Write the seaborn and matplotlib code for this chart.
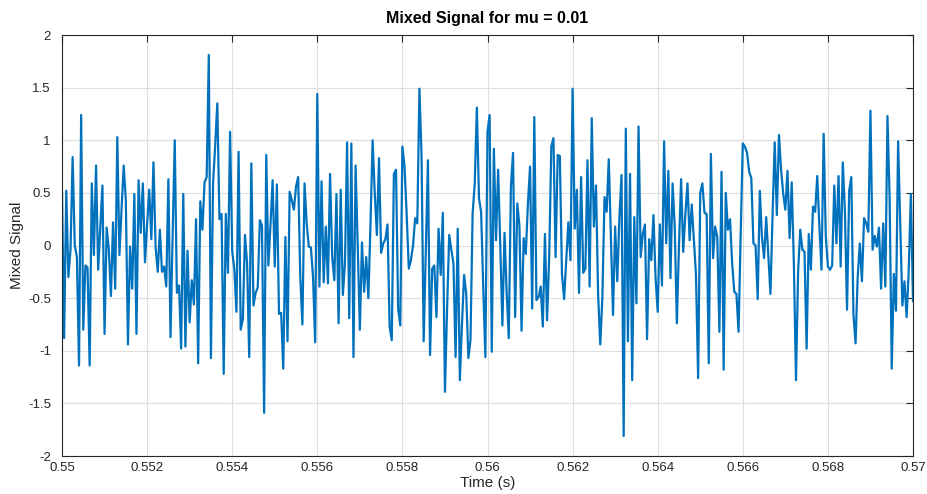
import numpy as np
import pandas as pd
import matplotlib
matplotlib.use("Agg")
import matplotlib.pyplot as plt
import seaborn as sns

# ---- data ----
fs = 20000          # samples per second
t_start = 0.55      # seconds

seg_a = [0.50, -0.88, 0.52, -0.30, -0.04, 0.84, 0.00, -0.11, -1.14, 1.24,
         -0.80, -0.19, -0.21, -1.14, 0.59, -0.09, 0.76, -0.23, 0.17, 0.57,
         -0.84, 0.17, -0.04, -0.48, 0.22, -0.41, 1.03, -0.09, 0.35, 0.76,
         0.43, -0.94, -0.01, -0.41, 0.49, -0.84, 0.62, 0.12, 0.59, -0.16,
         0.20, 0.53, 0.06, 0.79, -0.02, -0.25, 0.15, -0.25, -0.20, -0.39,
         0.63, -0.87, 0.10, 1.00, -0.45, -0.38, -0.98, 0.49, -0.96, -0.05,
         -0.73, -0.33, -0.56, 0.25, -1.12, 0.42, 0.15, 0.60, 0.65, 1.81,
         -1.07, 0.59, 0.95, 1.35, 0.25, 0.30, -1.22, 0.30, -0.26, 1.08,
         -0.05, -0.23, -0.63, 0.89, -0.80, -0.70, 0.10, -0.17, -1.06, 0.78,
         -0.57, -0.45, -0.40, 0.24, 0.19, -1.59, 0.86, -0.19, 0.20, 0.62]

seg_b = [-0.20, 0.58, -0.65, -0.64, -1.17, 0.08, -0.91, 0.51, 0.43, 0.34,
         0.56, 0.65, -0.30, -0.75, 0.59, 0.21, -0.01, -0.02, -0.30, -0.92,
         1.44, -0.39, 0.61, -0.35, 0.18, -0.36, 0.68, -0.11, -0.33, 0.49,
         -0.74, 0.53, -0.47, -0.17, 0.98, -0.69, 0.97, -1.06, 0.76, 0.00,
         -0.80, 0.03, -0.44, -0.11, -0.50, 0.20, 1.00, 0.50, 0.10, 0.83,
         -0.07, 0.02, 0.06, 0.20, -0.77, -0.90, 0.68, 0.72, -0.60, -0.76,
         0.94, 0.75, 0.30, -0.22, -0.14, 0.00, 0.26, 0.21, 1.49, 0.85,
         -0.91, -0.05, 0.81, -1.04, -0.22, -0.19, -0.68, 0.16, -0.28, 0.31,
         -1.39, -0.60, 0.10, -0.04, -0.17, -1.06, 0.16, -1.28, -0.75, -0.28,
         -0.46, -1.07, -0.90, 0.30, 0.59, 1.31, 0.45, 0.32, -0.40, -1.06]

seg_c = [1.08, 1.24, -1.01, 0.92, 0.05, 0.72, 0.00, -0.76, 0.12, -0.44,
         -0.88, 0.56, 0.88, -0.68, 0.40, 0.19, -0.81, 0.07, -0.08, 0.40,
         0.75, -0.60, 1.22, -0.52, -0.49, -0.39, -0.77, 0.11, -0.71, -0.11,
         0.94, 1.02, -0.11, 0.86, 0.85, -0.27, -0.51, -0.15, 0.22, -0.14,
         1.49, 0.16, 0.53, -0.45, 0.65, -0.26, -0.22, 0.81, -0.39, 1.21,
         0.18, 0.57, -0.47, -0.94, -0.49, 0.46, 0.32, 0.82, 0.08, -0.66,
         0.18, -0.34, 0.27, 0.67, -1.81, 1.11, -0.91, 0.68, -1.28, 0.27,
         -0.55, 1.13, -0.11, 0.11, 0.20, -0.89, 0.06, -0.14, 0.29, -0.31,
         -0.63, 0.20, -0.38, 0.99, 0.02, 0.71, -0.31, 0.59, 0.18, -0.74,
         0.00, 0.63, -0.06, 0.30, 0.59, 0.05, 0.39, 0.05, -0.28, -1.26]

seg_d = [0.50, 0.59, 0.31, 0.30, -1.12, 0.87, -0.12, 0.18, 0.08, -0.82,
         0.70, -1.18, 0.50, 0.15, 0.25, -0.17, -0.44, -0.46, -0.82, 0.10,
         0.97, 0.94, 0.88, 0.70, 0.64, 0.02, 0.00, -0.51, 0.52, 0.08,
         -0.12, 0.27, -0.10, -0.46, 0.30, 0.98, 0.29, 1.05, 0.72, 0.49,
         0.34, 0.71, 0.07, 0.60, -0.17, -1.28, -0.25, 0.15, -0.04, -0.06,
         -0.98, 0.11, -0.23, 0.37, 0.32, 0.66, 0.18, -0.23, 1.06, 0.09,
         -0.20, -0.23, -0.19, 0.57, 0.02, 0.66, -0.20, 0.79, 0.32, -0.61,
         0.52, 0.65, -0.65, -0.93, -0.30, 0.02, -0.34, 0.26, 0.21, 0.13,
         1.28, -0.04, 0.09, -0.01, 0.17, -0.41, 0.21, -0.39, 1.23, 0.46,
         -1.17, -0.27, -0.62, 0.99, 0.20, -0.57, -0.34, -0.68, -0.23, 0.49,
         -0.53]

x_ticks = [0.55, 0.552, 0.554, 0.556, 0.558, 0.56, 0.562, 0.564, 0.566, 0.568, 0.57]
x_tick_labels = ["0.55", "0.552", "0.554", "0.556", "0.558", "0.56",
                 "0.562", "0.564", "0.566", "0.568", "0.57"]
y_ticks = [-2, -1.5, -1, -0.5, 0, 0.5, 1, 1.5, 2]
y_tick_labels = ["-2", "-1.5", "-1", "-0.5", "0", "0.5", "1", "1.5", "2"]

signal = np.array(seg_a + seg_b + seg_c + seg_d)
time = t_start + np.arange(len(signal)) / fs
df = pd.DataFrame({"Time (s)": time, "Mixed Signal": signal})

# ---- plot ----
sns.set_style("white")
plt.rcParams["font.family"] = ["Liberation Sans", "DejaVu Sans"]

fig = plt.figure(figsize=(9.28, 4.94), dpi=100)
ax = fig.add_axes([62 / 928, 1 - 456 / 494, (913 - 62) / 928, (456 - 35) / 494])

sns.lineplot(data=df, x="Time (s)", y="Mixed Signal", ax=ax,
             color="#0072BD", linewidth=1.6, estimator=None, sort=False)

ax.set_xlim(0.55, 0.57)
ax.set_ylim(-2, 2)
ax.set_xticks(x_ticks)
ax.set_xticklabels(x_tick_labels)
ax.set_yticks(y_ticks)
ax.set_yticklabels(y_tick_labels)

ax.grid(True, color="#dedede", linewidth=0.8)
ax.set_axisbelow(True)
for s in ax.spines.values():
    s.set_color("#262626")
    s.set_linewidth(0.8)
ax.tick_params(direction="in", length=5, width=0.8, colors="#262626",
               top=True, right=True, labelsize=9.5)
ax.tick_params(axis="x", pad=4)
ax.tick_params(axis="y", pad=8)

ax.set_title("Mixed Signal for mu = 0.01", fontsize=11.5, fontweight="bold",
             color="black", pad=9)
ax.set_xlabel("Time (s)", fontsize=11, color="#262626", labelpad=2)
ax.set_ylabel("Mixed Signal", fontsize=11, color="#262626", labelpad=3)

fig.savefig("out.png", dpi=100, facecolor="white")
